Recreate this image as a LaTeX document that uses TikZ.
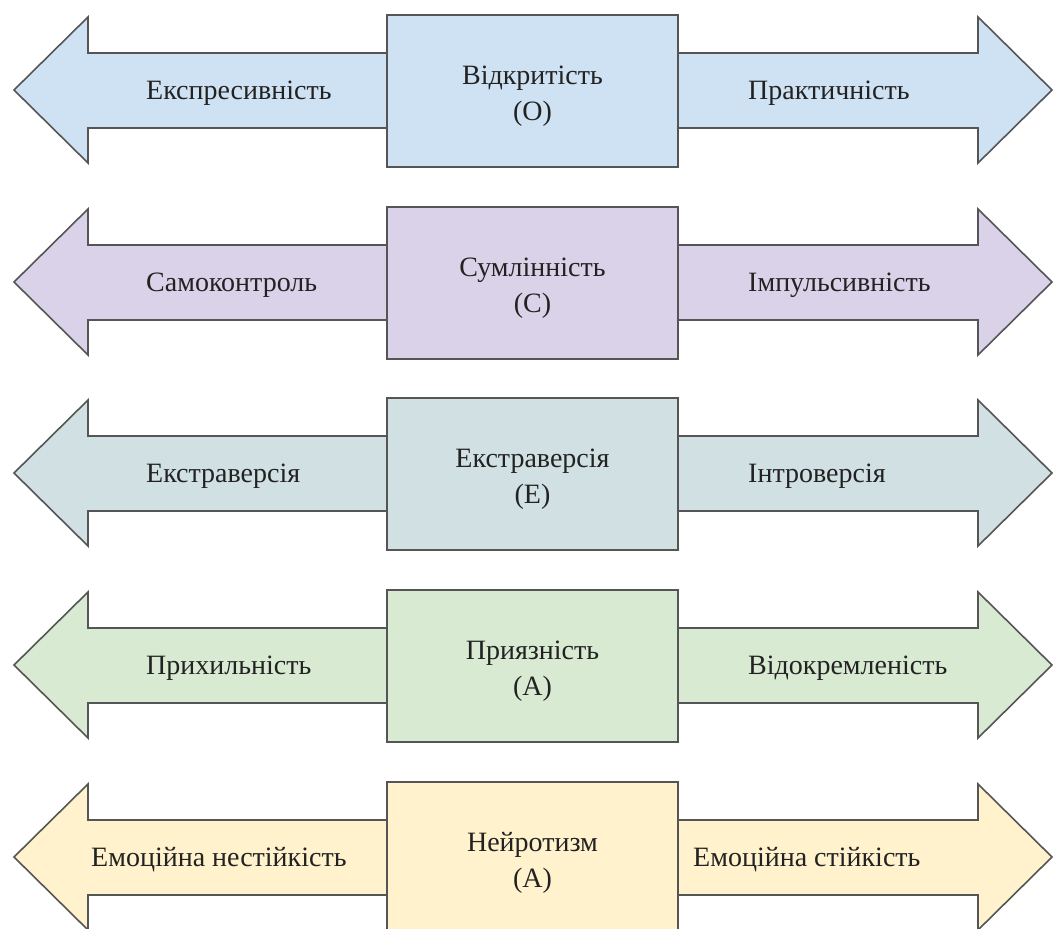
\documentclass[tikz,border=0pt]{standalone}
\usepackage{fontspec}
\setmainfont{Liberation Serif}
\definecolor{rowO}{HTML}{CFE2F3}
\definecolor{rowC}{HTML}{D9D2E9}
\definecolor{rowE}{HTML}{D0E0E3}
\definecolor{rowA}{HTML}{D9EAD3}
\definecolor{rowN}{HTML}{FFF2CC}
\definecolor{edge}{HTML}{555555}
\definecolor{ink}{HTML}{222222}
\tikzset{
  outline/.style={draw=edge, line width=1.6pt, line join=miter},
  traitbox/.style={outline, rectangle, minimum width=291pt, minimum height=152pt,
    inner sep=0pt},
  txt/.style={inner sep=0pt, text=ink, font=\fontsize{28}{34}\selectfont},
  pole/.style={txt, anchor=base west},
  title/.style={txt, anchor=base},
}
% one row: #1 tip y, #2 fill, #3 name, #4 trait, #5 code, #6 left text, #7 right text,
% #8 left label x, #9 right label x
\newcommand{\traitrow}[9]{%
  \def\ty{#1}%
  \filldraw[outline, fill=#2] (14,\ty) -- (88,\ty-73) -- (88,\ty-37) -- (978,\ty-37) -- (978,\ty-73)
    -- (1052,\ty) -- (978,\ty+73) -- (978,\ty+38) -- (88,\ty+38) -- (88,\ty+73) -- cycle;
  \node[traitbox, fill=#2] (#3) at (532.5,\ty+1) {};
  \node[title] (#3-name) at (532.5,\ty-6) {#4};
  \node[title] (#3-code) at (532.5,\ty+30) {#5};
  \node[pole] (#3-left) at (#8,\ty+9.5) {#6};
  \node[pole] (#3-right) at (#9,\ty+9.5) {#7};
}
\begin{document}
\begin{tikzpicture}[x=1pt, y=-1pt]
  \useasboundingbox (0,0) rectangle (1055,929);
  \clip (0,0) rectangle (1055,929);
  \traitrow{90}{rowO}{open}{Відкритість}{(О)}{Експресивність}{Практичність}{146}{748}
  \traitrow{282}{rowC}{consc}{Сумлінність}{(С)}{Самоконтроль}{Імпульсивність}{146}{748}
  \traitrow{473}{rowE}{extra}{Екстраверсія}{(Е)}{Екстраверсія}{Інтроверсія}{146}{748}
  \traitrow{665}{rowA}{agree}{Приязність}{(А)}{Прихильність}{Відокремленість}{146}{748}
  \traitrow{857}{rowN}{neuro}{Нейротизм}{(А)}{Емоційна нестійкість}{Емоційна стійкість}{91}{693}
\end{tikzpicture}
\end{document}
